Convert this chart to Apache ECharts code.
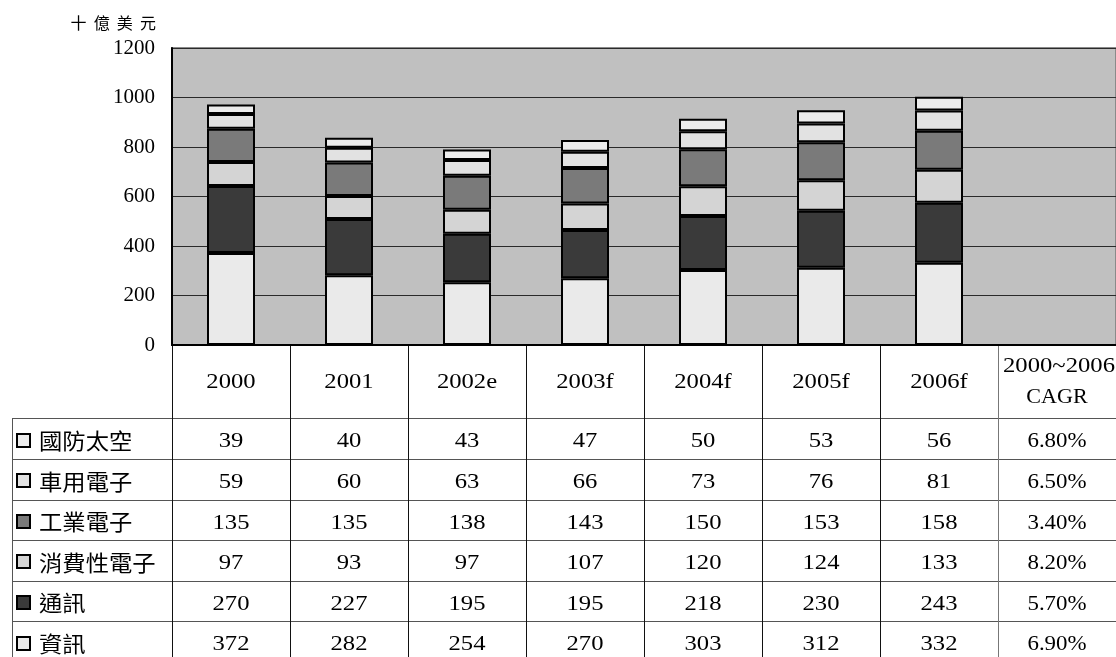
<!DOCTYPE html>
<html><head><meta charset="utf-8">
<script src="https://cdn.jsdelivr.net/npm/echarts@6/dist/echarts.min.js"></script>
<style>html,body{margin:0;padding:0;background:#fff}#c{width:1116px;height:657px}</style>
</head><body><div id="c"></div>
<script>
// ---- data ----
const years = ['2000','2001','2002e','2003f','2004f','2005f','2006f'];
const cagrHeader = ['2000~2006','CAGR'];
const rowNames = ['國防太空','車用電子','工業電子','消費性電子','通訊','資訊'];
const defense = [39,40,43,47,50,53,56];
const automotive = [59,60,63,66,73,76,81];
const industrial = [135,135,138,143,150,153,158];
const consumer = [97,93,97,107,120,124,133];
const communication = [270,227,195,195,218,230,243];
const information = [372,282,254,270,303,312,332];
const cagr = ['6.80%','6.50%','3.40%','8.20%','5.70%','6.90%'];
const yUnit = '十  億  美  元';
const yMin = 0, yMax = 1200, yStep = 200;

// ---- styling ----
const rowValues = [defense, automotive, industrial, consumer, communication, information];
const rowColors = ['#ececec','#e2e2e2','#7a7a7a','#d4d4d4','#3a3a3a','#eaeaea'];
const serif = '"Liberation Serif","Times New Roman",serif';
const cjk = '"Noto Sans CJK TC","Noto Sans CJK SC",sans-serif';
const tScale = 1.12;

const chart = echarts.init(document.getElementById('c'));
const categories = years.concat([cagrHeader.join(' ')]);

// stacked bottom -> top : 資訊, 通訊, 消費性電子, 工業電子, 車用電子, 國防太空
const order = [5,4,3,2,1,0];
const series = order.map(i => ({
  name: rowNames[i],
  type: 'bar',
  stack: 'total',
  barWidth: 48,
  data: rowValues[i],
  itemStyle: { color: rowColors[i], borderColor: '#000', borderWidth: 2 },
  emphasis: { disabled: true },
  animation: false
}));

chart.setOption({
  animation: false,
  grid: { left: 172, right: -2, top: 48, bottom: 312, show: true,
          backgroundColor: '#c0c0c0', borderColor: '#8a8a8a', borderWidth: 2 },
  xAxis: { type: 'category', data: categories,
           axisLine: { show: true, lineStyle: { color: '#000', width: 2 } },
           axisTick: { show: false }, axisLabel: { show: false }, splitLine: { show: false } },
  yAxis: { type: 'value', min: yMin, max: yMax, interval: yStep,
           axisLine: { show: true, lineStyle: { color: '#000', width: 2 } },
           axisTick: { show: false },
           axisLabel: { color: '#000', fontFamily: serif, fontSize: 21, margin: 17, formatter: v => String(v) },
           splitLine: { show: true, lineStyle: { color: '#2a2a2a', width: 1 } } },
  series: series
});

// ---- data table below the plot ----
const nCols = categories.length;
const x0 = chart.convertToPixel({ xAxisIndex: 0 }, 0);
const x1 = chart.convertToPixel({ xAxisIndex: 0 }, 1);
const band = x1 - x0;
const plotBottom = chart.convertToPixel({ yAxisIndex: 0 }, 0);
const headerBottom = 418.3;
const rowH = 40.6;
const tableLeft = 12;
const W = 1116, H = 657;
const g = [];

function txt(x, y, s, font, align, sx) {
  return { type: 'text', x: x, y: y, scaleX: sx || 1,
           style: { text: s, font: font, fill: '#000', align: align || 'center', verticalAlign: 'middle' } };
}

// unit label
g.push({ type: 'text', right: W - 156, top: 15, style: { text: yUnit, font: '16px ' + cjk, fill: '#000' } });

// horizontal lines
for (let r = 0; r < rowNames.length; r++) {
  const y = Math.round(headerBottom + r * rowH) + 0.5;
  g.push({ type: 'line', shape: { x1: tableLeft, y1: y, x2: W, y2: y }, style: { stroke: '#555', lineWidth: 1 } });
}
// vertical lines
for (let k = 0; k <= nCols; k++) {
  const x = Math.round(x0 - band / 2 + k * band) + 0.5;
  g.push({ type: 'line', shape: { x1: x, y1: plotBottom, x2: x, y2: H }, style: { stroke: k === nCols - 1 ? '#777' : '#111', lineWidth: 1 } });
}
g.push({ type: 'line', shape: { x1: tableLeft + 0.5, y1: headerBottom, x2: tableLeft + 0.5, y2: H }, style: { stroke: '#555', lineWidth: 1 } });

// header texts
years.forEach((yr, i) => {
  const cx = chart.convertToPixel({ xAxisIndex: 0 }, i);
  g.push(txt(cx, (plotBottom + headerBottom) / 2 + 1, yr, '22px ' + serif, 'center', tScale));
});
const cc = chart.convertToPixel({ xAxisIndex: 0 }, nCols - 1);
g.push(txt(cc + 2, 366, cagrHeader[0], '22px ' + serif, 'center', tScale));
g.push(txt(cc, 397, cagrHeader[1], '21px ' + serif, 'center', 1.05));

// rows
rowNames.forEach((name, r) => {
  const cy = headerBottom + r * rowH + rowH / 2 + 2;
  g.push({ type: 'rect', shape: { x: 17, y: Math.round(cy - 7), width: 13, height: 13 },
           style: { fill: rowColors[r], stroke: '#000', lineWidth: 2 } });
  g.push(txt(39, cy, name, '22px ' + cjk, 'left', 1.06));
  rowValues[r].forEach((v, i) => {
    const cx = chart.convertToPixel({ xAxisIndex: 0 }, i);
    g.push(txt(cx, cy + 1, String(v), '22px ' + serif, 'center', tScale));
  });
  g.push(txt(cc, cy + 1, cagr[r], '22px ' + serif, 'center', 1.04));
});

chart.setOption({ graphic: { elements: g } });
</script></body></html>
